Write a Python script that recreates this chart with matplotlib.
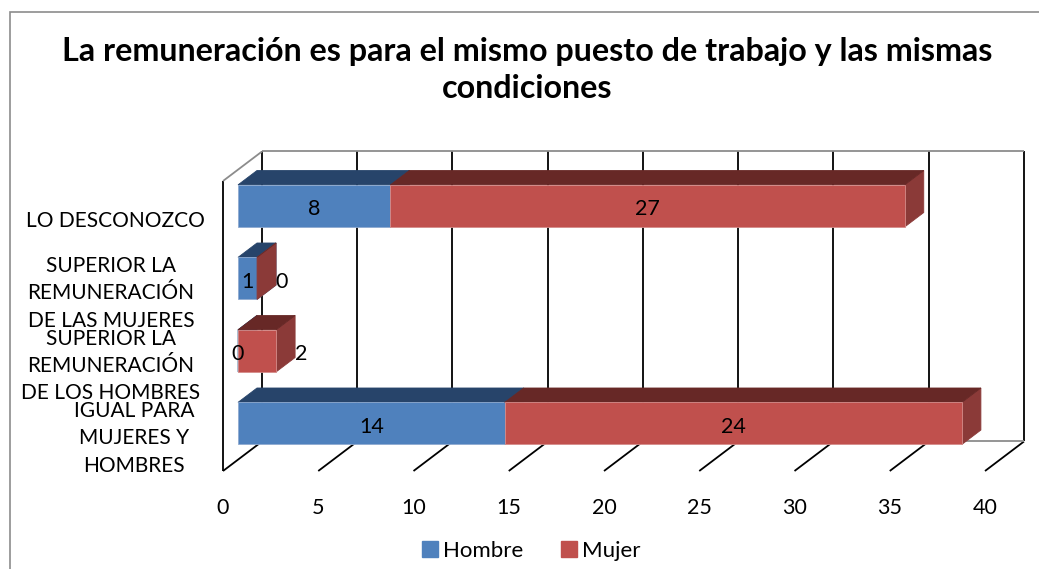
import matplotlib
matplotlib.use("Agg")
import matplotlib.pyplot as plt
from matplotlib.patches import Polygon, Rectangle
from matplotlib.lines import Line2D

# ---------------- data ----------------
categories = ["IGUAL PARA\nMUJERES Y\nHOMBRES",
              "SUPERIOR LA\nREMUNERACIÓN\nDE LOS HOMBRES",
              "SUPERIOR LA\nREMUNERACIÓN\nDE LAS MUJERES",
              "LO DESCONOZCO"]
hombre = [14, 0, 1, 8]
mujer = [24, 2, 0, 27]
series_names = ["Hombre", "Mujer"]
xticks = [0, 5, 10, 15, 20, 25, 30, 35, 40]
title = "La remuneración es para el mismo puesto de trabajo y las mismas\ncondiciones"

# ---------------- style ----------------
FONT = "Lato"
FS = 15.5
front_col = {"Hombre": "#4F81BD", "Mujer": "#C0504D"}
top_col = {"Hombre": "#27446A", "Mujer": "#672826"}
side_col = {"Hombre": "#3B6391", "Mujer": "#8B3A38"}
edge_col = {"Hombre": "#8FAAD0", "Mujer": "#D58C8A"}
GRAY = "#8C8C8C"

W, H = 1039, 569
fig = plt.figure(figsize=(W / 100, H / 100), dpi=100)
fig.patch.set_facecolor("white")

# outer chart border
fig.patches.append(Rectangle((10 / W, -0.05), 1.2, 1 - 12 / H + 0.05,
                             transform=fig.transFigure, fill=False,
                             edgecolor=GRAY, lw=1.2))

ax = fig.add_axes([223 / W, (H - 471) / H, 762 / W, 290 / H])
ax.set_xlim(xticks[0], xticks[-1])
ax.set_ylim(-0.5, len(categories) - 0.5)
ax.axis("off")

DX, DY = 2.047, 0.407      # full depth offset (data units)
D0, D1 = 0.385, 0.872      # bar front/back depth fraction
HALF = 0.29                # half bar thickness
y0, y1 = -0.5, len(categories) - 0.5
xmin, xmax = xticks[0], xticks[-1]

def L(xs, ys, color="black", lw=1.3, z=1):
    ax.plot(xs, ys, color=color, lw=lw, zorder=z, clip_on=False,
            solid_capstyle="butt")

# walls / grid
for v in xticks:
    L([v + DX, v + DX], [y0 + DY, y1 + DY])          # back wall gridlines
    L([v, v + DX], [y0, y0 + DY])                    # floor diagonals
L([xmin + DX, xmax + DX], [y0 + DY, y0 + DY], color=GRAY)   # back floor edge
L([xmin + DX, xmax + DX], [y1 + DY, y1 + DY], color=GRAY)   # top edge
L([xmin, xmin], [y0, y1])                                   # left wall front
L([xmin, xmin + DX], [y1, y1 + DY], color=GRAY)             # left wall top

fx, fy = DX * D0, DY * D0
bx, by = DX * D1, DY * D1

def poly(pts, color, z, ec=None):
    p = Polygon(pts, closed=True, facecolor=color,
                edgecolor=ec if ec else color, lw=0.6, zorder=z,
                clip_on=False, joinstyle="miter")
    ax.add_patch(p)

z = 3
for c in range(len(categories) - 1, -1, -1):
    left = 0
    for name, vals in zip(series_names, [hombre, mujer]):
        v = vals[c]
        l, r = left, left + v
        lo, hi = c - HALF, c + HALF
        # side face
        poly([(r + fx, lo + fy), (r + bx, lo + by), (r + bx, hi + by), (r + fx, hi + fy)],
             side_col[name], z)
        # top face
        poly([(l + fx, hi + fy), (r + fx, hi + fy), (r + bx, hi + by), (l + bx, hi + by)],
             top_col[name], z)
        # front face
        if v > 0:
            poly([(l + fx, lo + fy), (r + fx, lo + fy), (r + fx, hi + fy), (l + fx, hi + fy)],
                 front_col[name], z + 0.5, ec=edge_col[name])
        z += 1
        # data label
        if name == "Mujer" and v < 3:
            lx = r + fx + 1.3
        else:
            lx = (l + r) / 2 + fx
        ax.text(lx, c + fy - 0.045, str(v), ha="center", va="center",
                fontsize=FS, family=FONT, color="black", zorder=50, clip_on=False)
        left = r

# tick labels
for v in xticks:
    ax.text(v, y0 - 0.51, str(v), ha="center", va="center", fontsize=FS,
            family=FONT, color="black", clip_on=False)

# category labels
cat_x = [-4.67, -5.88, -5.88, -5.67]
for c, (lab, x) in enumerate(zip(categories, cat_x)):
    ax.text(x, c - 0.05, lab, ha="center", va="center", multialignment="center",
            fontsize=15, family=FONT, color="black", linespacing=1.45,
            clip_on=False)

# title
fig.text(527 / W, 1 - 70 / H, title, ha="center", va="center",
         fontsize=23.2, fontweight="bold", family=FONT, linespacing=1.3)

# legend
handles = [Line2D([], [], marker="s", ls="none", markersize=11,
                  markerfacecolor=front_col[n], markeredgecolor=front_col[n])
           for n in series_names]
fig.legend(handles, series_names, loc="center",
           bbox_to_anchor=(530 / W, 1 - 551 / H), ncol=2, frameon=False,
           prop={"family": FONT, "size": 16}, handletextpad=0.15,
           columnspacing=1.6, handlelength=0.9)

fig.savefig("out.png", dpi=100)
